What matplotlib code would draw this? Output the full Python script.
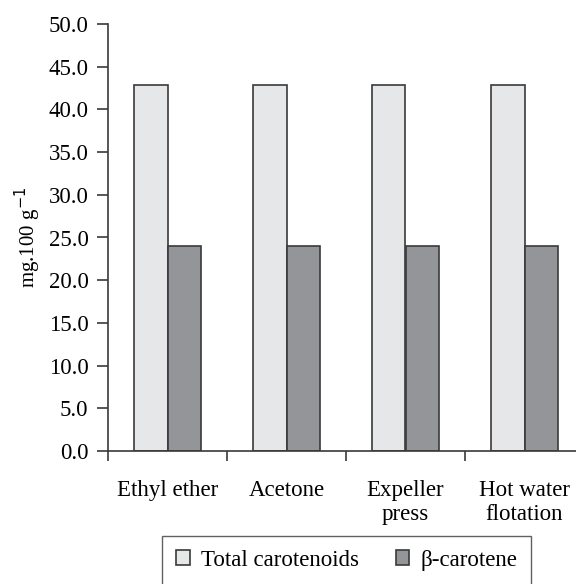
import numpy as np
import matplotlib.pyplot as plt

# values
methods = ['Ethyl ether', 'Acetone', 'Expeller\npress', 'Hot water\nflotation']
total_carotenoids = [42.8, 42.8, 42.8, 42.8]
beta_carotene = [24.0, 24.0, 24.0, 24.0]
series_names = ['Total carotenoids', '\u03b2-carotene']

plt.rcParams['font.family'] = ['Liberation Serif', 'DejaVu Serif']
plt.rcParams['font.size'] = 16.5

fig = plt.figure(figsize=(5.76, 5.84), dpi=100)
ax = fig.add_axes([108 / 576, 133 / 584, 476 / 576, 427 / 584])

x = np.arange(len(methods))
w = 0.28
edge = '#3a3a3a'
b1 = ax.bar(x - w / 2, total_carotenoids, w, color='#e6e7e8', edgecolor=edge, linewidth=1.2,
            label=series_names[0])
b2 = ax.bar(x + w / 2, beta_carotene, w, color='#939598', edgecolor=edge, linewidth=1.2,
            label=series_names[1])

ax.set_xlim(-0.5, 3.5)
ax.set_ylim(0, 50)
ax.set_yticks(np.arange(0, 50.1, 5))
ax.set_yticklabels(['%.1f' % v for v in np.arange(0, 50.1, 5)])
ax.set_xticks(x)
ax.set_xticklabels(methods, linespacing=1.15)
ax.tick_params(axis='x', length=0, pad=21)
ax.set_xticks(np.arange(-0.5, 3.6, 1), minor=True)
ax.tick_params(axis='x', which='minor', length=7, width=1.2, color=edge)
ax.tick_params(axis='y', length=8, width=1.2, color=edge, pad=6)

for s in ['top', 'right']:
    ax.spines[s].set_visible(False)
for s in ['left', 'bottom']:
    ax.spines[s].set_color(edge)
    ax.spines[s].set_linewidth(1.2)

ax.set_ylabel('mg.100 g$^{-1}$', labelpad=4, fontsize=15)

leg = fig.legend(handles=[b1, b2], loc='upper left', bbox_to_anchor=(162 / 576, 48 / 584),
                 borderaxespad=0, ncol=2, frameon=True, fancybox=False,
                 handlelength=0.6, handleheight=0.6, columnspacing=1.6,
                 handletextpad=0.5, borderpad=0.6, edgecolor=edge)
leg.get_frame().set_linewidth(1.0)

fig.savefig('out.png', dpi=100)
